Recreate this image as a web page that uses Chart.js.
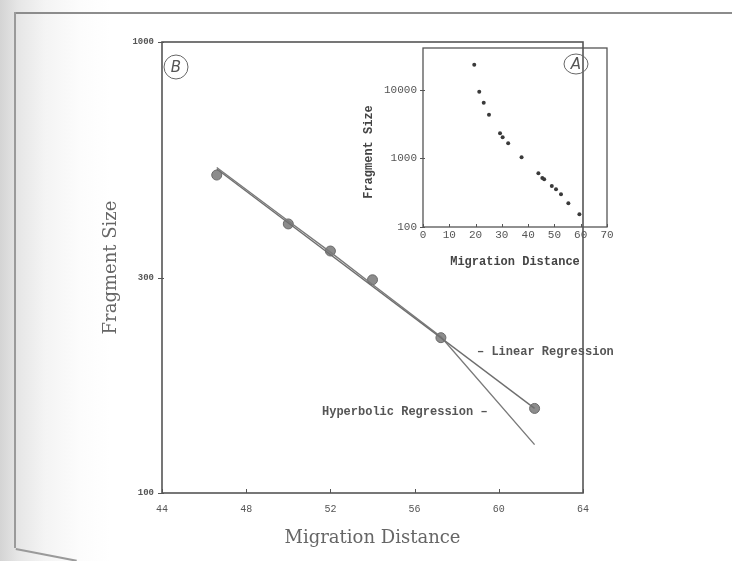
<!DOCTYPE html>
<html>
<head>
<meta charset="utf-8">
<script src="https://cdn.jsdelivr.net/npm/chart.js@4.4.1/dist/chart.umd.min.js"></script>
<style>
  html, body { margin: 0; padding: 0; }
  body {
    width: 732px; height: 561px; position: relative; overflow: hidden;
    background: linear-gradient(to right, #d4d4d4 0px, #e6e6e6 18px, #f4f4f4 45px, #fcfcfc 80px, #fff 110px);
  }
  #frameTop { position: absolute; left: 14px; top: 12px; width: 718px; border-top: 2px solid #8c8c8c; }
  #frameLeft { position: absolute; left: 14px; top: 12px; height: 536px; border-left: 2px solid #9a9a9a; }
  #frameFoot { position: absolute; left: 16px; top: 548px; width: 62px; border-top: 2px solid #9a9a9a;
    transform-origin: 0 0; transform: rotate(11deg); }
  #main { position: absolute; left: 0; top: 0; }
  #inset { position: absolute; left: 340px; top: 40px; }
</style>
</head>
<body>
<div id="frameTop"></div>
<div id="frameLeft"></div>
<div id="frameFoot"></div>
<canvas id="main" width="732" height="561"></canvas>
<canvas id="inset" width="280" height="270"></canvas>
<script>
// ---------------- Data ----------------
// Panel B: measured points
const mainDistance = [46.6, 50.0, 52.0, 54.0, 57.25, 61.7];
const mainSize = [507, 395, 344, 297, 221, 154];
// Panel B: fitted lines
const linearDistance = [46.6, 61.7];
const linearSize = [523, 154];
const hyperDistance = [46.6, 50.0, 52.0, 54.0, 57.25, 61.7];
const hyperSize = [527, 401, 342, 290, 222, 128];
const mainXTicks = [44, 48, 52, 56, 60, 64];
const mainYTicks = [100, 300, 1000];

// Panel A: full ladder
const insetDistance = [19.5, 21.4, 23.1, 25.1, 29.3, 30.3, 32.4, 37.5, 43.9, 45.4, 46.1, 49.0, 50.6, 52.5, 55.3, 59.5];
const insetSize = [23400, 9440, 6530, 4350, 2330, 2040, 1670, 1040, 608, 519, 497, 397, 355, 300, 222, 153];
const insetXTicks = [0, 10, 20, 30, 40, 50, 60, 70];
const insetYTicks = [100, 1000, 10000];

const pairs = (xs, ys) => xs.map((x, i) => ({ x, y: ys[i] }));

// ---------------- Plugins ----------------
// box round the plot, inward x ticks, outward y ticks
const frameTicks = {
  id: 'frameTicks',
  afterDraw(chart, args, opts) {
    const { ctx, chartArea: a, scales } = chart;
    ctx.save();
    ctx.strokeStyle = opts.color;
    ctx.lineWidth = opts.width;
    ctx.strokeRect(a.left, a.top, a.right - a.left, a.bottom - a.top);
    ctx.lineWidth = 1;
    scales.x.ticks.forEach(t => {
      const px = Math.round(scales.x.getPixelForValue(t.value)) + 0.5;
      ctx.beginPath();
      ctx.moveTo(px, a.bottom);
      ctx.lineTo(px, a.bottom - opts.len);
      ctx.stroke();
    });
    scales.y.ticks.forEach(t => {
      const py = Math.round(scales.y.getPixelForValue(t.value)) + 0.5;
      ctx.beginPath();
      ctx.moveTo(a.left + 2, py);
      ctx.lineTo(a.left - opts.len, py);
      ctx.stroke();
    });
    ctx.restore();
  }
};

// circled panel letter, free text labels, optional side title
const notes = {
  id: 'notes',
  afterDraw(chart, args, opts) {
    const { ctx, chartArea: a } = chart;
    ctx.save();
    const l = opts.letter;
    const cx = l.fromRight ? a.right - l.dx : a.left + l.dx;
    const cy = a.top + l.dy;
    ctx.strokeStyle = '#666';
    ctx.lineWidth = 1;
    ctx.beginPath();
    ctx.ellipse(cx, cy, l.rx, l.ry, 0, 0, Math.PI * 2);
    ctx.stroke();
    ctx.fillStyle = '#555';
    ctx.font = 'italic 15px "DejaVu Sans"';
    ctx.textAlign = 'center';
    ctx.textBaseline = 'middle';
    ctx.fillText(l.text, cx, cy + 1);
    (opts.labels || []).forEach(t => {
      ctx.font = 'bold 12px "Liberation Mono"';
      ctx.fillStyle = '#555';
      ctx.textAlign = 'left';
      ctx.fillText(t.text, t.x, t.y);
    });
    if (opts.sideTitle) {
      const s = opts.sideTitle;
      ctx.translate(s.x, s.y);
      ctx.rotate(-Math.PI / 2);
      ctx.font = 'bold 12px "Liberation Mono"';
      ctx.fillStyle = '#444';
      ctx.textAlign = 'center';
      ctx.fillText(s.text, 0, 0);
    }
    ctx.restore();
  }
};

// ---------------- Panel B ----------------
new Chart(document.getElementById('main'), {
  type: 'scatter',
  data: {
    datasets: [
      {
        label: 'Linear Regression',
        data: pairs(linearDistance, linearSize),
        showLine: true, borderColor: '#6e6e6e', borderWidth: 1.4, pointRadius: 0
      },
      {
        label: 'Hyperbolic Regression',
        data: pairs(hyperDistance, hyperSize),
        showLine: true, borderColor: '#7a7a7a', borderWidth: 1.4, pointRadius: 0
      },
      {
        label: 'Fragments',
        data: pairs(mainDistance, mainSize),
        pointRadius: 5, backgroundColor: '#8c8c8c', borderColor: '#6a6a6a', borderWidth: 1
      }
    ]
  },
  options: {
    responsive: false,
    animation: false,
    layout: { padding: { left: 97, top: 42, right: 149, bottom: 8 } },
    plugins: {
      legend: { display: false },
      tooltip: { enabled: false },
      frameTicks: { color: '#555', width: 1.6, len: 4 },
      notes: {
        letter: { text: 'B', dx: 14, dy: 25, rx: 12, ry: 12 },
        labels: [
          { text: '\u2013 Linear Regression', x: 477, y: 352 },
          { text: 'Hyperbolic Regression \u2013', x: 322, y: 412 }
        ]
      }
    },
    scales: {
      x: {
        type: 'linear', min: 44, max: 64,
        afterBuildTicks: s => { s.ticks = mainXTicks.map(v => ({ value: v })); },
        afterFit: s => { s.height = 60; },
        grid: { display: false, drawTicks: false },
        border: { display: false },
        ticks: { padding: 10, color: '#555', font: { family: 'Liberation Mono', size: 10 } },
        title: { display: true, text: 'Migration Distance', color: '#666',
          font: { family: 'DejaVu Serif', size: 18 } }
      },
      y: {
        type: 'logarithmic', min: 100, max: 1000,
        afterBuildTicks: s => { s.ticks = mainYTicks.map(v => ({ value: v })); },
        afterFit: s => { s.width = 65; },
        grid: { display: false, drawTicks: false },
        border: { display: false },
        ticks: { padding: 8, color: '#555', font: { family: 'Liberation Mono', size: 9, weight: 'bold' },
          callback: v => String(v) },
        title: { display: true, text: 'Fragment Size', color: '#666',
          font: { family: 'DejaVu Serif', size: 18 } }
      }
    }
  },
  plugins: [frameTicks, notes]
});

// ---------------- Panel A (inset) ----------------
new Chart(document.getElementById('inset'), {
  type: 'scatter',
  data: {
    datasets: [{
      label: 'Ladder',
      data: pairs(insetDistance, insetSize),
      pointRadius: 2, backgroundColor: '#3a3a3a', borderColor: '#3a3a3a', borderWidth: 0
    }]
  },
  options: {
    responsive: false,
    animation: false,
    layout: { padding: { left: 0, top: 8, right: 13, bottom: 37 } },
    plugins: {
      legend: { display: false },
      tooltip: { enabled: false },
      frameTicks: { color: '#555', width: 1.3, len: 3 },
      notes: {
        letter: { text: 'A', fromRight: true, dx: 31, dy: 16, rx: 12, ry: 10 },
        sideTitle: { text: 'Fragment Size', x: 29, y: 112 }
      }
    },
    scales: {
      x: {
        type: 'linear', min: 0, max: 70,
        afterBuildTicks: s => { s.ticks = insetXTicks.map(v => ({ value: v })); },
        afterFit: s => { s.height = 46; s.paddingLeft = 0; s.paddingRight = 0; },
        grid: { display: false, drawTicks: false },
        border: { display: false },
        ticks: { padding: 1, color: '#555', font: { family: 'Liberation Mono', size: 11 } },
        title: { display: true, text: 'Migration Distance', color: '#444',
          font: { family: 'Liberation Mono', size: 12, weight: 'bold' } }
      },
      y: {
        type: 'logarithmic', min: 100, max: 41000,
        afterBuildTicks: s => { s.ticks = insetYTicks.map(v => ({ value: v })); },
        afterFit: s => { s.width = 83; s.paddingTop = 0; s.paddingBottom = 0; },
        grid: { display: false, drawTicks: false },
        border: { display: false },
        ticks: { padding: 6, color: '#555', font: { family: 'Liberation Mono', size: 11 },
          callback: v => String(v) }
      }
    }
  },
  plugins: [frameTicks, notes]
});
</script>
</body>
</html>
